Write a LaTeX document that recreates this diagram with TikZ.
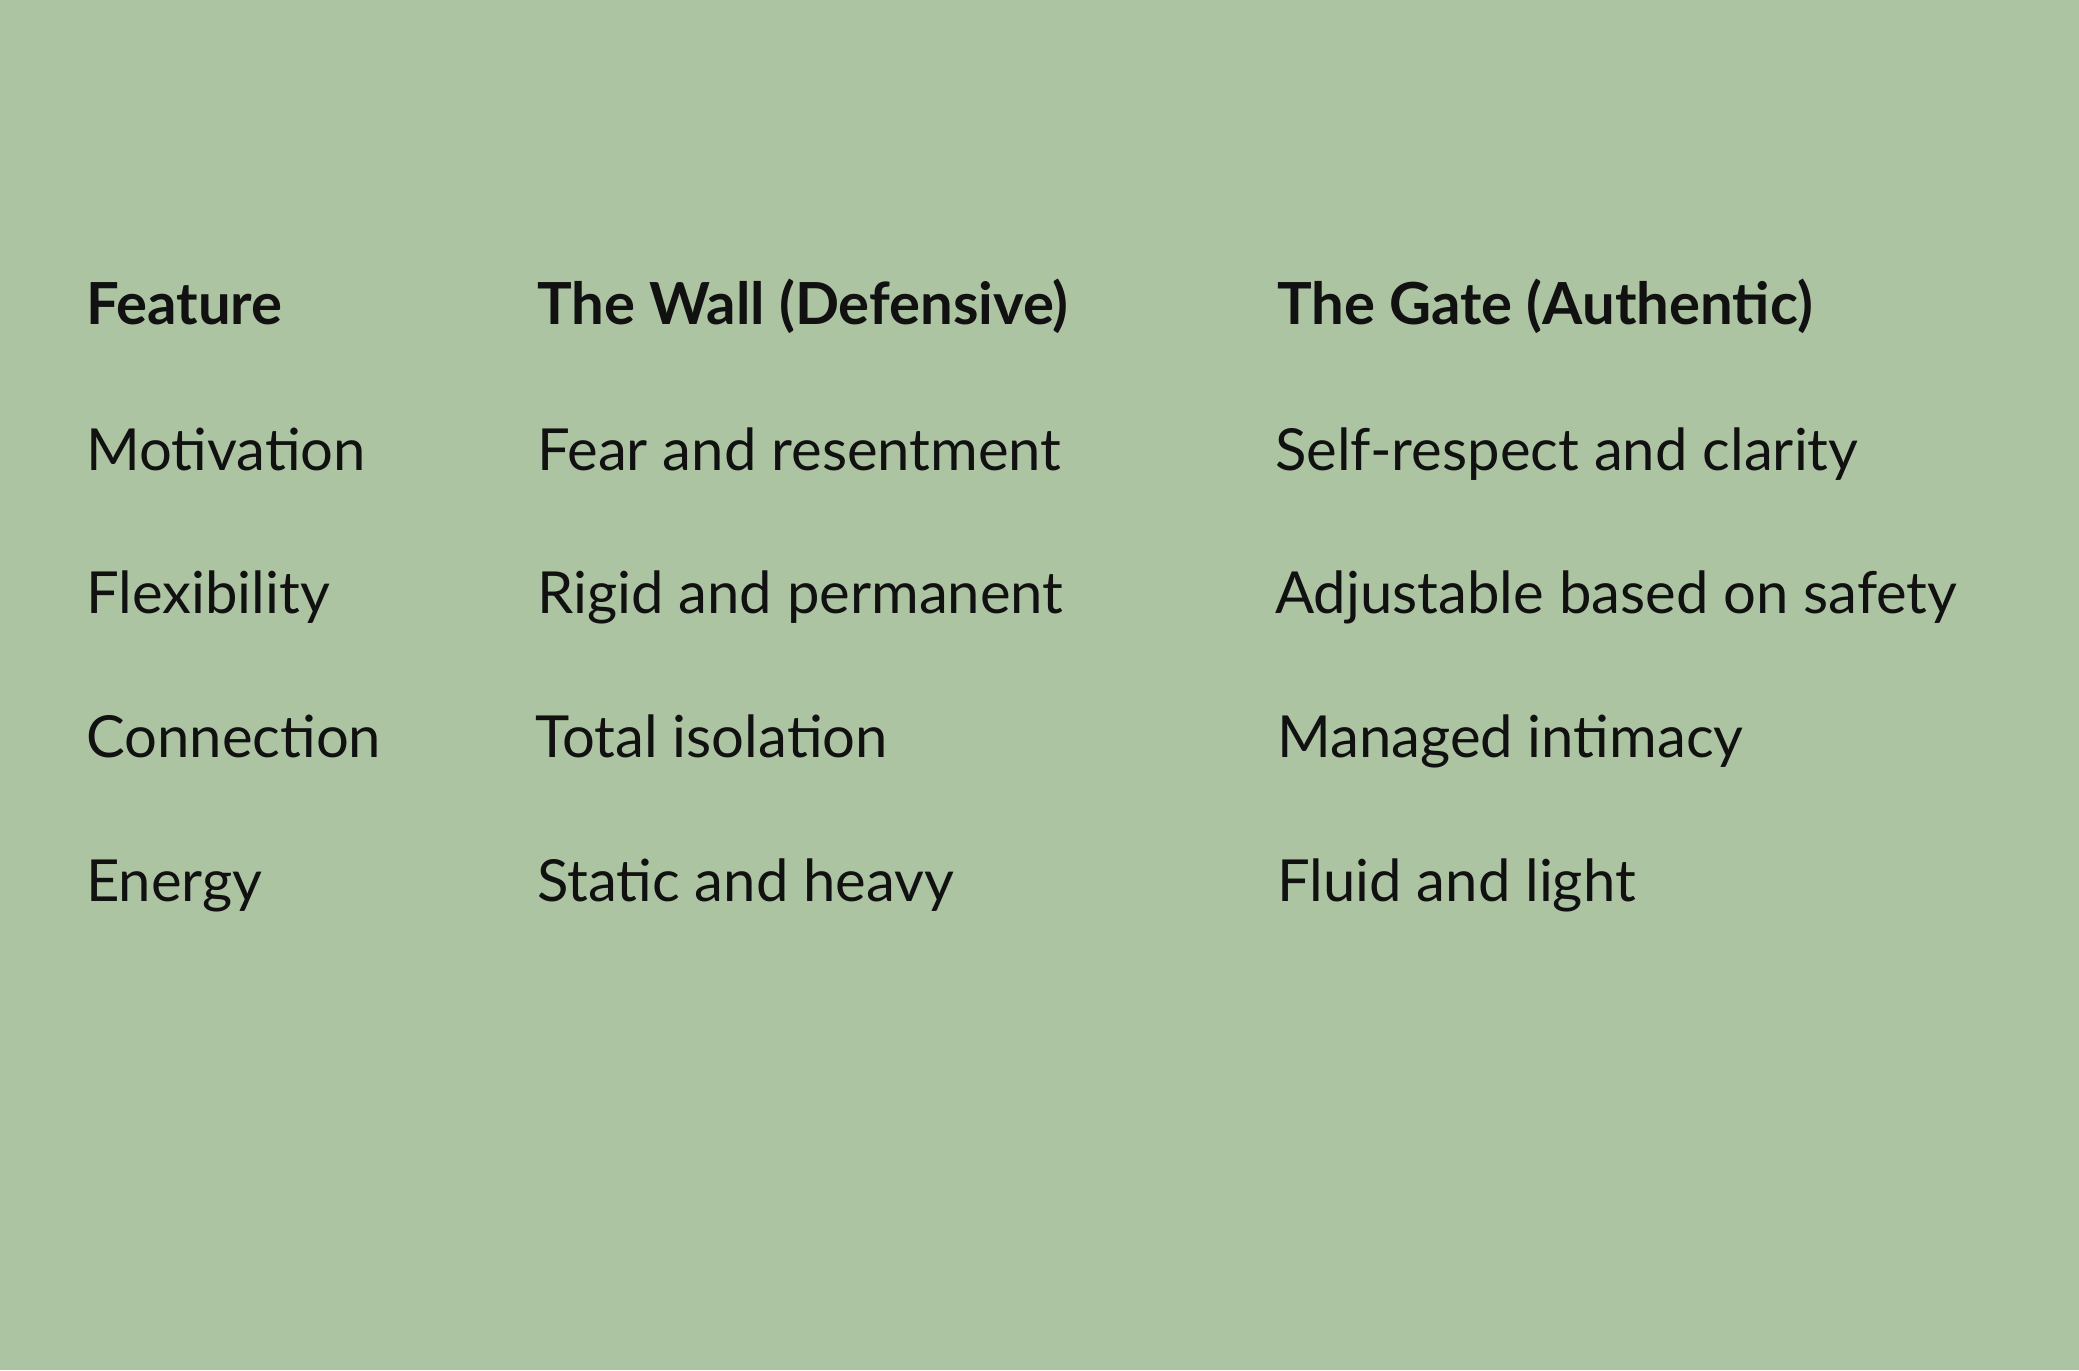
\documentclass[tikz,border=0pt]{standalone}
\usepackage{fontspec}
\setmainfont{Lato}
\definecolor{bg}{HTML}{ADC4A3}
\definecolor{ink}{HTML}{111111}
\begin{document}
\begin{tikzpicture}[x=1pt,y=1pt,
  cell/.style={anchor=base west,inner sep=0pt,text=ink,font=\fontsize{58}{60}\selectfont},
  head/.style={cell,font=\fontsize{58}{60}\selectfont\bfseries}]
\fill[bg] (0,0) rectangle (2079,1370);
\useasboundingbox (0,0) rectangle (2079,1370);
\node[head] (h1) at (86,1045) {Feature};
\node[head] (h2) at (537,1045) {The Wall (Defensive)};
\node[head] (h3) at (1277,1045) {The Gate (Authentic)};
\node[cell] (a1) at (86,899) {Motivation};
\node[cell] (a2) at (537,899) {Fear and resentment};
\node[cell] (a3) at (1275,899) {Self-respect and clarity};
\node[cell] (b1) at (86,756) {Flexibility};
\node[cell] (b2) at (537,756) {Rigid and permanent};
\node[cell] (b3) at (1275,756) {Adjustable based on safety};
\node[cell] (c1) at (86,612) {Connection};
\node[cell] (c2) at (535,612) {Total isolation};
\node[cell] (c3) at (1277,612) {Managed intimacy};
\node[cell] (d1) at (86,468) {Energy};
\node[cell] (d2) at (537,468) {Static and heavy};
\node[cell] (d3) at (1277,468) {Fluid and light};
\end{tikzpicture}
\end{document}
